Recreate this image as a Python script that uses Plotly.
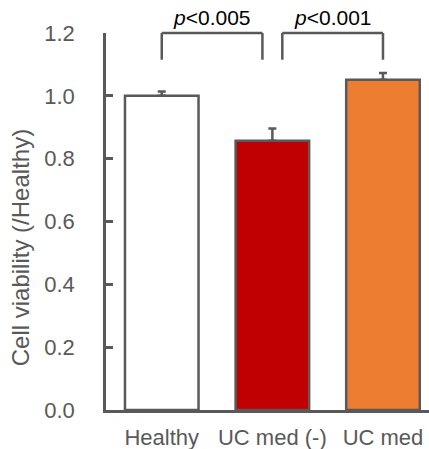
import plotly.graph_objects as go

categories = ["Healthy", "UC med (-)", "UC med"]
viability = [1.0, 0.857, 1.051]
errors = [0.014, 0.039, 0.022]
bar_colors = ["#FFFFFF", "#C00000", "#ED7D31"]
y_ticks = [0.0, 0.2, 0.4, 0.6, 0.8, 1.0, 1.2]
comparisons = [(0, 1, "p<0.005"), (1, 2, "p<0.001")]

GRAY = "#595959"
FONT = "Liberation Sans, Arial, sans-serif"
YMAX = 1.2
x = list(range(len(categories)))

fig = go.Figure()
fig.add_trace(go.Bar(
    x=x, y=viability, width=0.665,
    marker=dict(color=bar_colors, line=dict(color=GRAY, width=2.5)),
    error_y=dict(type="data", array=errors, arrayminus=[0] * len(errors),
                 symmetric=False, color=GRAY, thickness=2.5, width=4),
    showlegend=False, hoverinfo="skip",
))

# significance brackets
gap = 0.09
leg_bottom = 1.115
for i, (a, b, label) in enumerate(comparisons):
    x0 = a + (gap if i > 0 else 0)
    x1 = b - (gap if i < len(comparisons) - 1 else 0)
    top = YMAX / YMAX
    bot = leg_bottom / YMAX
    for (xa, ya, xb, yb) in [(x0, bot, x0, top), (x0, top, x1, top), (x1, top, x1, bot)]:
        fig.add_shape(type="line", xref="x", yref="paper", x0=xa, y0=ya, x1=xb, y1=yb,
                      line=dict(color=GRAY, width=2.5), layer="above")
    txt = label.replace("p", "<i>p</i>", 1).replace("<0", "&lt;0")
    fig.add_annotation(x=(x0 + x1) / 2, xref="x", y=1.04, yref="paper",
                       text=txt, showarrow=False, yanchor="middle",
                       font=dict(family=FONT, size=21, color="#000000"))

fig.add_annotation(text="Cell viability (/Healthy)", textangle=-90,
                   xref="paper", x=-0.262, yref="paper", y=0.43,
                   showarrow=False, xanchor="center", yanchor="middle",
                   font=dict(family=FONT, size=24, color=GRAY))

fig.update_layout(
    width=429, height=449,
    margin=dict(l=106, r=0, t=33, b=39),
    plot_bgcolor="white", paper_bgcolor="white",
    bargap=0.3,
    xaxis=dict(range=[-0.504, 2.416], tickvals=x, ticktext=categories,
               showline=True, linecolor=GRAY, linewidth=2.5, ticks="",
               showgrid=False, zeroline=False, ticklabelstandoff=6,
               tickfont=dict(family=FONT, size=22, color=GRAY)),
    yaxis=dict(range=[0, YMAX], tickvals=y_ticks, tickformat=".1f",
               showline=True, linecolor=GRAY, linewidth=2.5,
               ticks="inside", ticklen=7, tickwidth=2.5, tickcolor=GRAY,
               showgrid=False, zeroline=False, ticklabelstandoff=24,
               tickfont=dict(family=FONT, size=22, color=GRAY)),
)

fig.write_html("out.html", config={"displayModeBar": False},
               post_script="document.body.style.margin='0';document.body.style.overflow='hidden';")
